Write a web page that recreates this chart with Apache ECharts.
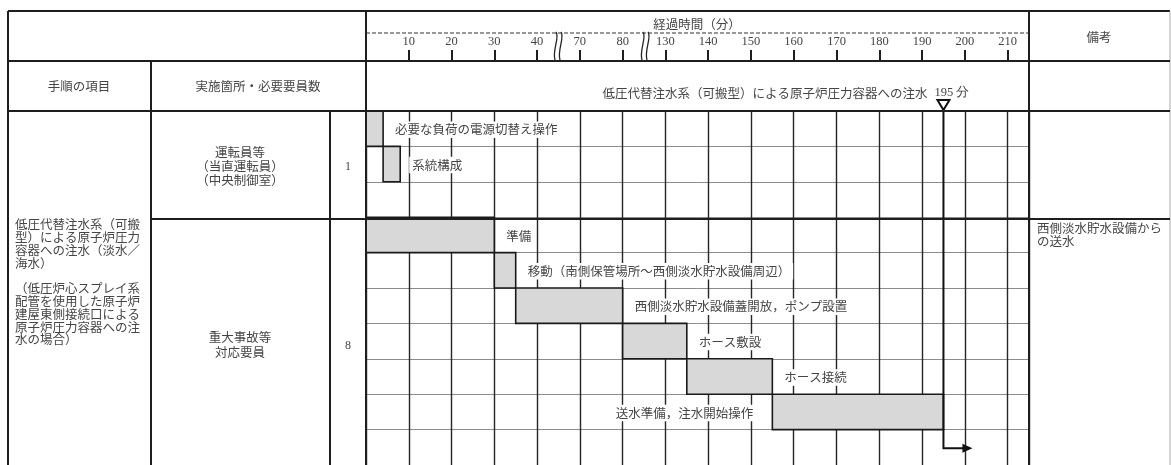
<!DOCTYPE html>
<html><head><meta charset="utf-8">
<script src="https://cdn.jsdelivr.net/npm/echarts@6/dist/echarts.min.js"></script>
<style>html,body{margin:0;padding:0;background:#fff}#c{width:1171px;height:465px}</style>
</head><body><div id="c"></div>
<script>
// ---- data ----
const tickMinutes = [0, 10, 20, 30, 40, 70, 80, 130, 140, 150, 160, 170, 180, 190, 200, 210];
const axisTitle = '経過時間（分）';
const taskNames = [
  '必要な負荷の電源切替え操作',
  '系統構成',
  '準備',
  '移動（南側保管場所～西側淡水貯水設備周辺）',
  '西側淡水貯水設備蓋開放，ポンプ設置',
  'ホース敷設',
  'ホース接続',
  '送水準備，注水開始操作'
];
const taskStart = [0, 4, 0, 30, 35, 80, 135, 155];
const taskEnd   = [4, 8, 30, 35, 80, 135, 155, 195];
const taskRow   = [0, 1, 3, 4, 5, 6, 7, 8];
const rowCount = 10;
const injectionMinute = 195;
const injectionTitle = '低圧代替注水系（可搬型）による原子炉圧力容器への注水';
const injectionLabel = '195 分';
const headerLabels = ['手順の項目', '実施箇所・必要要員数', '備考'];
const procedureText = '低圧代替注水系（可搬\n型）による原子炉圧力\n容器への注水（淡水／\n海水）\n\n（低圧炉心スプレイ系\n配管を使用した原子炉\n建屋東側接続口による\n原子炉圧力容器への注\n水の場合）';
const crewGroups = ['運転員等\n（当直運転員）\n（中央制御室）', '重大事故等\n対応要員'];
const crewCounts = ['1', '8'];
const remarkText = '西側淡水貯水設備から\nの送水';

// ---- helpers ----
const JP = '"Noto Sans CJK JP", "Noto Sans CJK SC", sans-serif';
const SERIF = '"Liberation Serif", "DejaVu Serif", serif';
const TXT = '#454545';
const FS = 12.5;
function toSlot(m) {
  for (let i = 0; i < tickMinutes.length - 1; i++) {
    const a = tickMinutes[i], b = tickMinutes[i + 1];
    if (m >= a && m <= b) return i + (m - a) / (b - a);
  }
  return tickMinutes.length - 1;
}
const slotMax = tickMinutes.length - 0.5;
const tickSlots = tickMinutes.map((m, i) => i).filter(i => i > 0);

const chart = echarts.init(document.getElementById('c'));

function L(x1, y1, x2, y2, w, c, dash) {
  return { type: 'line', silent: true, z: 50, shape: { x1, y1, x2, y2 },
    style: { stroke: c || '#1e1e1e', lineWidth: w || 2, lineDash: dash || null } };
}
function T(x, y, text, opt) {
  return Object.assign({ type: 'text', x, y, z: 60, silent: true,
    style: Object.assign({ text, fill: TXT, fontSize: FS, fontFamily: JP, align: 'center', verticalAlign: 'middle' }, opt || {}) });
}
function breakMark(x) {
  const curve = dx => ({ type: 'bezierCurve', silent: true,
    shape: { x1: x - 2 + dx, y1: 32, cpx1: x + 2 + dx, cpy1: 37, cpx2: x - 6 + dx, cpy2: 50, x2: x - 3 + dx, y2: 60 },
    style: { stroke: '#222', lineWidth: 1.3, fill: null } });
  return { type: 'group', z: 55, silent: true, children: [
    { type: 'rect', silent: true, shape: { x: x - 4, y: 30, width: 9, height: 29 }, style: { fill: '#fff' } },
    curve(0), curve(5)
  ]};
}

const graphic = [
  L(8, 11, 1170, 11, 2),
  L(8, 11, 8, 465, 2),
  L(1170, 11, 1170, 465, 1, '#aaa'),
  L(8, 61, 1170, 61, 2),
  L(8, 111, 1170, 111, 2),
  L(151, 61, 151, 465, 2),
  L(330, 111, 330, 465, 2),
  L(366, 11, 366, 465, 2),
  L(1029, 11, 1029, 465, 2),
  L(151, 219, 1170, 219, 2),
  L(366, 33, 1029, 33, 1.2, '#333', [4, 2]),
  breakMark(558),
  breakMark(645),
  T(697, 24, axisTitle),
  T(79, 86, headerLabels[0]),
  T(258, 86, headerLabels[1]),
  T(1099, 37, headerLabels[2]),
  T(15, 218, procedureText, { align: 'left', verticalAlign: 'top', lineHeight: 12.8 }),
  T(240, 166, crewGroups[0], { lineHeight: 14 }),
  T(240, 345, crewGroups[1], { lineHeight: 15 }),
  T(348, 167, crewCounts[0], { fontFamily: SERIF, fontSize: 12 }),
  T(348, 346, crewCounts[1], { fontFamily: SERIF, fontSize: 12 }),
  T(1037, 222, remarkText, { align: 'left', verticalAlign: 'top', lineHeight: 13 })
];

const option = {
  animation: false,
  backgroundColor: '#fff',
  grid: [
    { left: 366, top: 111, width: 663, height: 357 },
    { left: 366, top: 11, width: 663, height: 50 }
  ],
  xAxis: [
    { gridIndex: 0, type: 'value', min: 0, max: slotMax, interval: 1, position: 'top',
      axisLine: { show: false }, axisTick: { show: false }, axisLabel: { show: false },
      splitLine: { show: true, lineStyle: { color: '#262626', width: 1.4 } } },
    { gridIndex: 1, type: 'value', min: 0, max: slotMax, interval: 1, position: 'bottom',
      axisLine: { show: false },
      axisTick: { show: true, inside: true, length: 11, customValues: tickSlots, lineStyle: { color: '#1e1e1e', width: 2 } },
      axisLabel: { show: true, inside: true, margin: 13, customValues: tickSlots, color: TXT, fontSize: 12.5, fontFamily: SERIF,
        formatter: v => (Number.isInteger(v) && v > 0 && v < tickMinutes.length) ? String(tickMinutes[v]) : '' },
      splitLine: { show: false } }
  ],
  yAxis: [
    { gridIndex: 0, type: 'value', min: 0, max: rowCount, interval: 1, inverse: true,
      axisLine: { show: false }, axisTick: { show: false }, axisLabel: { show: false },
      splitLine: { show: true, lineStyle: { color: '#8c8c8c', width: 1 } } },
    { gridIndex: 1, type: 'value', show: false, min: 0, max: 1, splitLine: { show: false } }
  ],
  graphic: graphic,
  series: [
    {
      type: 'custom', xAxisIndex: 0, yAxisIndex: 0, clip: false, z: 10,
      data: taskNames.map((n, i) => [toSlot(taskStart[i]), toSlot(taskEnd[i]), taskRow[i], i]),
      encode: { x: [0, 1], y: 2 },
      renderItem(params, api) {
        const s = api.value(0), e = api.value(1), r = api.value(2), i = api.value(3);
        const p0 = api.coord([s, r]), p1 = api.coord([e, r + 1]);
        const midY = (p0[1] + p1[1]) / 2;
        const left = i === taskNames.length - 1;
        return { type: 'group', children: [
          { type: 'rect', shape: { x: p0[0], y: p0[1], width: p1[0] - p0[0], height: p1[1] - p0[1] },
            style: { fill: '#d8d8d8', stroke: '#1a1a1a', lineWidth: 1.6 } },
          { type: 'text', x: left ? p0[0] - 16 : p1[0] + 9, y: midY + 1,
            style: { text: taskNames[i], fill: TXT, fontSize: FS, fontFamily: JP,
              align: left ? 'right' : 'left', verticalAlign: 'middle',
              backgroundColor: '#fff', padding: [2, 3] } }
        ]};
      }
    },
    {
      type: 'custom', xAxisIndex: 0, yAxisIndex: 0, clip: false, z: 20,
      data: [[toSlot(injectionMinute), rowCount - 0.5]],
      encode: { x: 0, y: 1 },
      renderItem(params, api) {
        const p = api.coord([api.value(0), api.value(1)]);
        const top = api.coord([0, 0])[1];
        const x = p[0], yEnd = p[1] + 1;
        return { type: 'group', children: [
          { type: 'polyline', shape: { points: [[x, top - 3], [x, yEnd], [x + 20, yEnd]] },
            style: { stroke: '#111', lineWidth: 2, fill: null } },
          { type: 'polygon', shape: { points: [[x + 19, yEnd - 4.5], [x + 29, yEnd], [x + 19, yEnd + 4.5]] },
            style: { fill: '#111' } },
          { type: 'polygon', shape: { points: [[x - 6, top - 11], [x + 6, top - 11], [x, top - 1]] },
            style: { fill: '#fff', stroke: '#111', lineWidth: 2 } },
          { type: 'text', x: x - 16, y: top - 18,
            style: { text: injectionTitle, fill: TXT, fontSize: FS, fontFamily: JP, align: 'right', verticalAlign: 'middle' } },
          { type: 'text', x: x - 9, y: top - 18,
            style: { text: injectionLabel, fill: TXT, fontSize: FS, fontFamily: SERIF, align: 'left', verticalAlign: 'middle' } }
        ]};
      }
    }
  ]
};
chart.setOption(option);
</script>
</body></html>
